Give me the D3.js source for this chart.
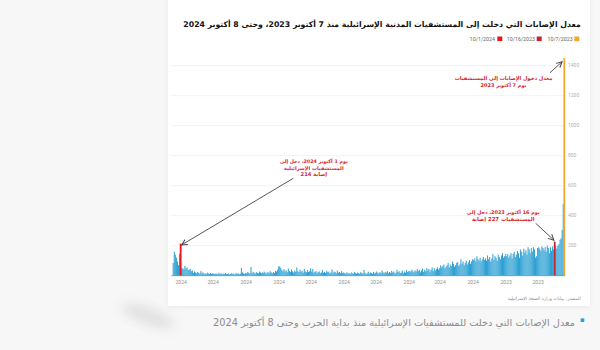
<!DOCTYPE html>
<html>
<head>
<meta charset="utf-8">
<script src="https://cdn.jsdelivr.net/npm/d3@7"></script>
<style>
  html, body { margin: 0; padding: 0; background: #f7f7f7; }
  svg { display: block; }
</style>
</head>
<body>
<svg id="chart" width="600" height="350"></svg>
<script>
// Daily casualties admitted to Israeli civilian hospitals, one array per month
const oct2023 = [1450, 480, 305, 250, 240, 210, 200, 180, 200, 227, 175, 195, 165, 190, 150, 185, 200, 160, 190, 170, 185, 195, 165, 180, 190];
const nov2023 = [185, 130, 120, 175, 190, 160, 185, 150, 175, 190, 140, 170, 155, 180, 135, 160, 175, 120, 150, 165, 140, 125, 160, 145, 115, 150, 135, 120, 145, 130];
const dec2023 = [145, 130, 120, 150, 135, 110, 125, 140, 100, 120, 130, 105, 145, 115, 95, 125, 110, 135, 100, 115, 105, 125, 110, 95, 120, 100, 110, 130, 95, 115, 105];
const jan2024 = [110, 95, 80, 105, 90, 75, 100, 85, 70, 95, 80, 110, 75, 65, 90, 85, 70, 60, 80, 95, 65, 75, 55, 85, 70, 60, 50, 75, 65, 55, 70];
const feb2024 = [50, 40, 55, 45, 35, 50, 30, 55, 40, 28, 45, 35, 50, 30, 40, 25, 48, 35, 22, 40, 30, 45, 28, 35, 22, 30, 40, 26, 32];
const mar2024 = [30, 25, 38, 20, 28, 15, 35, 22, 18, 30, 25, 40, 20, 15, 28, 22, 33, 18, 25, 14, 30, 20, 26, 16, 22, 35, 18, 24, 15, 20, 28];
const apr2024 = [20, 15, 25, 12, 18, 22, 14, 27, 16, 11, 20, 38, 15, 18, 24, 12, 17, 21, 13, 19, 26, 14, 16, 22, 11, 18, 15, 23, 13, 17];
const may2024 = [22, 18, 30, 15, 25, 20, 35, 17, 24, 28, 19, 42, 21, 16, 27, 23, 33, 18, 25, 20, 38, 22, 17, 29, 24, 19, 31, 26, 21, 45, 28];
const jun2024 = [50, 30, 25, 38, 22, 28, 45, 20, 33, 27, 40, 24, 30, 55, 26, 35, 21, 29, 42, 25, 32, 48, 23, 36, 28, 44, 30, 38, 52, 62];
const jul2024 = [62, 40, 28, 32, 18, 25, 15, 22, 30, 17, 24, 20, 14, 27, 19, 23, 16, 21, 28, 15, 19, 24, 13, 20, 26, 17, 58, 15, 18, 25, 16];
const aug2024 = [18, 12, 15, 22, 53, 14, 10, 16, 12, 19, 9, 14, 11, 17, 13, 8, 15, 12, 10, 18, 11, 14, 9, 16, 12, 20, 10, 13, 15, 11, 14];
const sep2024 = [15, 12, 18, 10, 14, 20, 11, 16, 13, 22, 17, 31, 14, 19, 25, 16, 21, 28, 18, 35, 30, 45, 40, 38, 55, 48, 65, 42, 50, 47];
const oct2024 = [214, 145, 70, 95, 120, 140, 160, 85];

const monthStarts = ["2023-10-07", "2023-11-01", "2023-12-01", "2024-01-01", "2024-02-01", "2024-03-01",
                     "2024-04-01", "2024-05-01", "2024-06-01", "2024-07-01", "2024-08-01", "2024-09-01", "2024-10-01"];
const monthValues = [oct2023, nov2023, dec2023, jan2024, feb2024, mar2024, apr2024, may2024, jun2024, jul2024, aug2024, sep2024, oct2024];

// Axis ticks (month starts) and their year labels
const tickDates = ["2024-10-01", "2024-09-01", "2024-08-01", "2024-07-01", "2024-06-01", "2024-05-01",
                   "2024-04-01", "2024-03-01", "2024-02-01", "2024-01-01", "2023-12-01", "2023-11-01"];
const tickLabels = ["2024", "2024", "2024", "2024", "2024", "2024", "2024", "2024", "2024", "2024", "2023", "2023"];
const yTicks = [200, 400, 600, 800, 1000, 1200, 1400];

// Highlighted days
const highlightDates = ["2023-10-07", "2023-10-16", "2024-10-01"];
const highlightColors = ["#f5a534", "#c8262c", "#e8151d"];
const legendLabels = ["10/7/2023", "10/16/2023", "10/1/2024"];

const titleText = "معدل الإصابات التي دخلت إلى المستشفيات المدنية الإسرائيلية منذ 7 أكتوبر 2023، وحتى 8 أكتوبر 2024";
const sourceText = "المصدر: بيانات وزارة الصحة الإسرائيلية";
const captionText = "معدل الإصابات التي دخلت للمستشفيات الإسرائيلية منذ بداية الحرب وحتى 8 أكتوبر 2024";
const noteOct7 = ["معدل دخول الإصابات إلى المستشفيات", "يوم 7 أكتوبر 2023"];
const noteOct1 = ["يوم 1 أكتوبر 2024، دخل إلى", "المستشفيات الإسرائيلية", "214 إصابة"];
const noteOct16 = ["يوم 16 أكتوبر 2023، دخل إلى", "المستشفيات 227 إصابة"];

const parse = d3.utcParse("%Y-%m-%d");
const data = monthStarts.flatMap((s, m) =>
  monthValues[m].map((v, i) => ({ date: d3.utcDay.offset(parse(s), i), value: v })));
const hlKey = highlightDates.map(s => +parse(s));
const valueOn = s => data.find(d => +d.date === +parse(s)).value;

const svg = d3.select("#chart");
const arabic = "'DejaVu Sans', 'Noto Sans', sans-serif";
const latin = "Roboto, 'Liberation Sans', sans-serif";

// Scale a text element's font so it spans the given width
function fitWidth(sel, w) {
  const L = sel.node().getComputedTextLength();
  sel.attr("font-size", parseFloat(sel.attr("font-size")) * w / L);
  return sel;
}

const defs = svg.append("defs");
defs.append("filter").attr("id", "soft").attr("x", "-50%").attr("y", "-50%").attr("width", "200%").attr("height", "200%")
  .append("feGaussianBlur").attr("stdDeviation", 6);
defs.append("filter").attr("id", "cardShadow").attr("x", "-5%").attr("y", "-5%").attr("width", "110%").attr("height", "110%")
  .append("feDropShadow").attr("dx", 0).attr("dy", 1).attr("stdDeviation", 2).attr("flood-color", "#000").attr("flood-opacity", 0.06);
defs.append("marker").attr("id", "arrow").attr("viewBox", "0 0 10 10").attr("refX", 9).attr("refY", 5)
  .attr("markerWidth", 7).attr("markerHeight", 7).attr("orient", "auto-start-reverse").attr("markerUnits", "userSpaceOnUse")
  .append("path").attr("d", "M1,1 L9,5 L1,9").attr("fill", "none").attr("stroke", "#444").attr("stroke-width", 1.4);

// page background and card
svg.append("rect").attr("width", 600).attr("height", 350).attr("fill", "#f7f7f7");
svg.append("ellipse").attr("cx", 148).attr("cy", 316).attr("rx", 28).attr("ry", 8)
  .attr("transform", "rotate(20 148 316)").attr("fill", "#c9c9c9").attr("opacity", 0.5).attr("filter", "url(#soft)");
svg.append("rect").attr("x", 168).attr("y", -4).attr("width", 422).attr("height", 310)
  .attr("fill", "#fff").attr("filter", "url(#cardShadow)");

// scales
const x = d3.scaleUtc().domain([parse("2024-10-08"), parse("2023-10-07")]).range([173.2, 564.3]);
const y = d3.scaleLinear().domain([0, 1400]).range([275.7, 65.7]);

// gridlines + right-side value labels
svg.append("g").selectAll("line").data(yTicks).join("line")
  .attr("x1", 171).attr("x2", 563).attr("y1", d => y(d)).attr("y2", d => y(d))
  .attr("stroke", "#eeeeee").attr("stroke-width", 0.8);
svg.append("g").selectAll("text").data(yTicks).join("text")
  .attr("x", 568).attr("y", d => y(d)).attr("dy", "0.35em")
  .attr("font-family", latin).attr("font-size", 5).attr("fill", "#b0b0b0").text(d => d);

// bars
const plain = data.filter(d => !hlKey.includes(+d.date));
const marked = data.filter(d => hlKey.includes(+d.date));
svg.append("g").selectAll("rect").data(plain).join("rect")
  .attr("x", d => x(d.date) - 0.5).attr("width", 1.0)
  .attr("y", d => y(d.value)).attr("height", d => y(0) - y(d.value))
  .attr("fill", "#2a9fd2");
svg.append("g").selectAll("rect").data(marked).join("rect")
  .attr("x", d => x(d.date) - 0.9).attr("width", 1.8)
  .attr("y", d => y(d.value)).attr("height", d => y(0) - y(d.value))
  .attr("fill", d => highlightColors[hlKey.indexOf(+d.date)]);

svg.append("line").attr("x1", 171).attr("x2", 565).attr("y1", y(0)).attr("y2", y(0))
  .attr("stroke", "#4f88a6").attr("stroke-width", 0.6);

// x axis
const xAxis = d3.axisBottom(x)
  .tickValues(tickDates.map(parse))
  .tickFormat((d, i) => tickLabels[i])
  .tickSize(0).tickPadding(4.5);
const gx = svg.append("g").attr("transform", `translate(0,${y(0)})`).call(xAxis);
gx.select(".domain").remove();
gx.selectAll("text").attr("font-family", latin).attr("font-size", 5).attr("fill", "#909090");

// title
fitWidth(svg.append("text").attr("x", 580.7).attr("y", 27).attr("text-anchor", "end")
  .attr("font-family", arabic).attr("font-weight", "bold").attr("font-size", 13).attr("fill", "#111")
  .text(titleText), 398);

// legend
const legendTextRight = [572.7, 535, 495];
const legendBoxLeft = [574.3, 536.7, 497.3];
legendLabels.forEach((lab, i) => {
  svg.append("rect").attr("x", legendBoxLeft[i]).attr("y", 36.5).attr("width", 5).attr("height", 4.6)
    .attr("fill", highlightColors[i]);
  svg.append("text").attr("x", legendTextRight[i]).attr("y", 40.6).attr("text-anchor", "end")
    .attr("font-family", latin).attr("font-size", 5.3).attr("fill", "#666").text(lab);
});

// annotations
function note(lines, cx, baselines, widths) {
  lines.forEach((t, i) => {
    fitWidth(svg.append("text").attr("x", cx).attr("y", baselines[i]).attr("text-anchor", "middle")
      .attr("font-family", arabic).attr("font-weight", "bold").attr("font-size", 7)
      .attr("fill", "#d8242b").text(t), widths[i]);
  });
}
function arrow(x1, y1, x2, y2) {
  svg.append("line").attr("x1", x1).attr("y1", y1).attr("x2", x2).attr("y2", y2)
    .attr("stroke", "#444").attr("stroke-width", 0.9).attr("marker-end", "url(#arrow)");
}
note(noteOct7, 503.5, [79.8, 87.2], [98, 46]);
arrow(550, 72.7, x(parse("2023-10-07")) - 2.2, y(valueOn("2023-10-07")) + 3.5);

note(noteOct1, 313.8, [163.2, 169.8, 176.4], [68, 60, 26.5]);
arrow(293.3, 178.3, x(parse("2024-10-01")) + 1, y(valueOn("2024-10-01")) + 1.3);

note(noteOct16, 503.3, [214.2, 221.2], [73, 63]);
arrow(535.7, 223.3, x(parse("2023-10-16")) - 0.8, y(valueOn("2023-10-16")) - 1.5);

// source line
fitWidth(svg.append("text").attr("x", 580.7).attr("y", 300).attr("text-anchor", "end")
  .attr("font-family", arabic).attr("font-size", 5).attr("fill", "#8a8a8a").text(sourceText), 73);

// caption below the card
svg.append("rect").attr("x", 580.7).attr("y", 318.4).attr("width", 3.6).attr("height", 3.6).attr("fill", "#1ea5e3");
fitWidth(svg.append("text").attr("x", 575).attr("y", 326).attr("text-anchor", "end")
  .attr("font-family", arabic).attr("font-size", 13).attr("fill", "#8c8c8c").text(captionText), 362);
</script>
</body>
</html>
